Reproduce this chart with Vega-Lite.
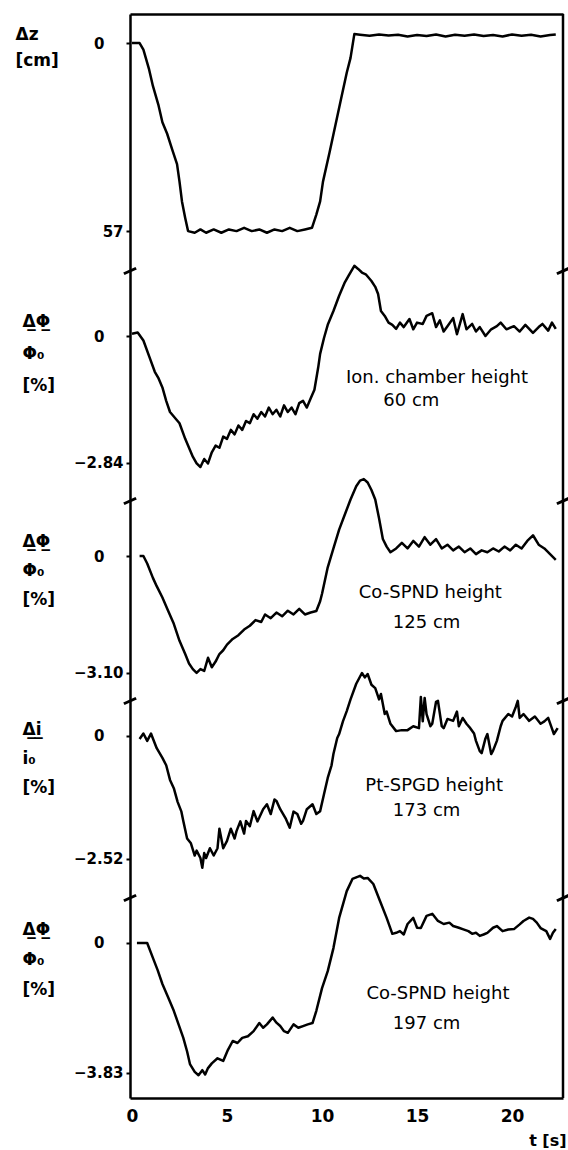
{
  "$schema": "https://vega.github.io/schema/vega-lite/v6.json",
  "background": "white",
  "padding": {"left": 15, "top": 12, "right": 2, "bottom": 2},
  "spacing": 0,
  "bounds": "flush",
  "resolve": {"scale": {"x": "independent", "y": "independent"}},
  "config": {
    "view": {"stroke": null},
    "font": "DejaVu Sans",
    "axis": {
      "domainColor": "black", "domainWidth": 2.5, "tickColor": "black", "tickWidth": 2,
      "labelFont": "DejaVu Sans", "labelFontWeight": "bold", "labelFontSize": 15, "labelColor": "black",
      "titleFont": "DejaVu Sans", "titleFontWeight": "bold", "titleColor": "black",
      "grid": false, "labelFlush": false, "labelOverlap": false
    },
    "axisY": {"titleAngle": 0, "titleAlign": "left", "titleBaseline": "top", "titleFontSize": 17, "titleLineHeight": 30, "tickSize": 4}
  },
  "datasets": {
    "dz": [
      {"t":0,"v":0},{"t":0.4,"v":0},{"t":0.6,"v":2},{"t":0.9,"v":8},{"t":1.1,"v":13},{"t":1.4,"v":19},{"t":1.6,"v":24},{"t":1.85,"v":27.5},{"t":2.1,"v":32},{"t":2.37,"v":36.7},{"t":2.5,"v":42},{"t":2.63,"v":48},{"t":2.8,"v":53},{"t":2.95,"v":57},
      {"t":3.3,"v":57.5},{"t":3.6,"v":56.5},{"t":3.9,"v":57.5},{"t":4.3,"v":56.5},{"t":4.7,"v":57.5},{"t":5.1,"v":56.5},{"t":5.5,"v":57},{"t":5.9,"v":56},{"t":6.3,"v":57},{"t":6.7,"v":56.5},{"t":7.1,"v":57.5},{"t":7.5,"v":56.5},{"t":7.9,"v":57},{"t":8.3,"v":56},{"t":8.7,"v":57},{"t":9.1,"v":56.5},{"t":9.47,"v":56},
      {"t":9.7,"v":52},{"t":9.9,"v":48},{"t":10.05,"v":42},{"t":10.4,"v":33},{"t":10.7,"v":25},{"t":11.0,"v":17},{"t":11.3,"v":9},{"t":11.5,"v":4.5},{"t":11.7,"v":-2.7},
      {"t":12.0,"v":-2.5},{"t":12.5,"v":-2.2},{"t":13.0,"v":-2.6},{"t":13.5,"v":-2.3},{"t":14.0,"v":-2.5},{"t":14.5,"v":-2.0},{"t":15.0,"v":-2.4},{"t":15.5,"v":-2.1},{"t":16.0,"v":-2.6},{"t":16.5,"v":-2.0},{"t":17.0,"v":-2.5},{"t":17.5,"v":-2.2},{"t":18.0,"v":-2.6},{"t":18.5,"v":-2.1},{"t":19.0,"v":-2.4},{"t":19.5,"v":-2.0},{"t":20.0,"v":-2.6},{"t":20.5,"v":-2.2},{"t":21.0,"v":-2.5},{"t":21.5,"v":-2.0},{"t":22.0,"v":-2.4},{"t":22.3,"v":-2.6}
    ],
    "ion": [
      {"t":0.0,"v":0.05},{"t":0.3,"v":0.08},{"t":0.6,"v":-0.1},{"t":0.9,"v":-0.45},{"t":1.2,"v":-0.8},{"t":1.4,"v":-0.95},{"t":1.6,"v":-1.15},{"t":1.8,"v":-1.45},{"t":2.0,"v":-1.7},{"t":2.3,"v":-1.85},{"t":2.5,"v":-1.95},{"t":2.8,"v":-2.3},{"t":3.0,"v":-2.5},{"t":3.2,"v":-2.7},{"t":3.4,"v":-2.85},{"t":3.6,"v":-2.93},{"t":3.8,"v":-2.75},{"t":4.0,"v":-2.85},{"t":4.2,"v":-2.6},{"t":4.4,"v":-2.45},{"t":4.6,"v":-2.5},{"t":4.8,"v":-2.25},{"t":5.0,"v":-2.3},{"t":5.2,"v":-2.1},{"t":5.4,"v":-2.2},{"t":5.6,"v":-2.0},{"t":5.8,"v":-2.1},{"t":6.0,"v":-1.9},{"t":6.2,"v":-1.95},{"t":6.4,"v":-1.75},{"t":6.6,"v":-1.85},{"t":6.8,"v":-1.7},{"t":7.0,"v":-1.8},{"t":7.2,"v":-1.6},{"t":7.4,"v":-1.75},{"t":7.6,"v":-1.65},{"t":7.8,"v":-1.8},{"t":8.0,"v":-1.55},{"t":8.2,"v":-1.7},{"t":8.4,"v":-1.6},{"t":8.6,"v":-1.75},{"t":8.8,"v":-1.5},{"t":9.0,"v":-1.45},{"t":9.2,"v":-1.6},{"t":9.4,"v":-1.4},{"t":9.6,"v":-1.2},{"t":9.8,"v":-0.7},{"t":9.9,"v":-0.4},{"t":10.1,"v":-0.05},{"t":10.3,"v":0.25},{"t":10.6,"v":0.56},{"t":10.9,"v":0.9},{"t":11.2,"v":1.2},{"t":11.4,"v":1.35},{"t":11.7,"v":1.57},{"t":11.9,"v":1.5},{"t":12.1,"v":1.42},{"t":12.3,"v":1.38},{"t":12.6,"v":1.23},{"t":12.8,"v":1.1},{"t":12.95,"v":0.94},{"t":13.1,"v":0.56},{"t":13.3,"v":0.45},{"t":13.5,"v":0.3},{"t":13.7,"v":0.25},{"t":13.9,"v":0.16},{"t":14.1,"v":0.3},{"t":14.3,"v":0.2},{"t":14.6,"v":0.38},{"t":14.8,"v":0.15},{"t":15.0,"v":0.3},{"t":15.3,"v":0.27},{"t":15.5,"v":0.45},{"t":15.8,"v":0.51},{"t":16.0,"v":0.2},{"t":16.2,"v":0.35},{"t":16.4,"v":0.1},{"t":16.6,"v":0.22},{"t":16.9,"v":0.4},{"t":17.1,"v":0.04},{"t":17.4,"v":0.49},{"t":17.6,"v":0.15},{"t":17.9,"v":0.27},{"t":18.1,"v":0.1},{"t":18.3,"v":0.2},{"t":18.6,"v":0.0},{"t":18.9,"v":0.15},{"t":19.2,"v":0.22},{"t":19.4,"v":0.3},{"t":19.7,"v":0.15},{"t":20.1,"v":0.22},{"t":20.4,"v":0.1},{"t":20.7,"v":0.25},{"t":21.1,"v":0.07},{"t":21.4,"v":0.2},{"t":21.6,"v":0.27},{"t":21.9,"v":0.12},{"t":22.1,"v":0.3},{"t":22.3,"v":0.16}
    ],
    "co125": [
      {"t":0.4,"v":0},{"t":0.6,"v":0},{"t":0.8,"v":-0.2},{"t":1.1,"v":-0.58},{"t":1.3,"v":-0.8},{"t":1.6,"v":-1.1},{"t":1.9,"v":-1.45},{"t":2.2,"v":-1.8},{"t":2.5,"v":-2.25},{"t":2.8,"v":-2.6},{"t":3.0,"v":-2.85},{"t":3.2,"v":-3.0},{"t":3.4,"v":-3.1},{"t":3.6,"v":-3.0},{"t":3.8,"v":-3.05},{"t":4.0,"v":-2.7},{"t":4.2,"v":-2.95},{"t":4.4,"v":-2.8},{"t":4.6,"v":-2.6},{"t":4.8,"v":-2.5},{"t":5.0,"v":-2.35},{"t":5.3,"v":-2.2},{"t":5.6,"v":-2.1},{"t":5.9,"v":-1.95},{"t":6.2,"v":-1.85},{"t":6.5,"v":-1.7},{"t":6.8,"v":-1.75},{"t":7.0,"v":-1.55},{"t":7.3,"v":-1.65},{"t":7.6,"v":-1.5},{"t":7.9,"v":-1.6},{"t":8.2,"v":-1.45},{"t":8.5,"v":-1.55},{"t":8.8,"v":-1.4},{"t":9.1,"v":-1.55},{"t":9.4,"v":-1.5},{"t":9.7,"v":-1.46},{"t":9.9,"v":-1.2},{"t":10.0,"v":-1.0},{"t":10.3,"v":-0.3},{"t":10.6,"v":0.2},{"t":10.9,"v":0.7},{"t":11.2,"v":1.1},{"t":11.5,"v":1.5},{"t":11.8,"v":1.85},{"t":12.0,"v":2.0},{"t":12.2,"v":2.04},{"t":12.4,"v":1.95},{"t":12.6,"v":1.75},{"t":12.8,"v":1.5},{"t":13.0,"v":1.0},{"t":13.2,"v":0.45},{"t":13.4,"v":0.25},{"t":13.6,"v":0.1},{"t":13.9,"v":0.2},{"t":14.2,"v":0.35},{"t":14.5,"v":0.2},{"t":14.8,"v":0.4},{"t":15.1,"v":0.25},{"t":15.4,"v":0.5},{"t":15.7,"v":0.3},{"t":16.0,"v":0.45},{"t":16.3,"v":0.2},{"t":16.6,"v":0.3},{"t":16.9,"v":0.15},{"t":17.2,"v":0.25},{"t":17.5,"v":0.1},{"t":17.8,"v":0.2},{"t":18.1,"v":0.05},{"t":18.4,"v":0.15},{"t":18.7,"v":0.1},{"t":19.0,"v":0.2},{"t":19.3,"v":0.12},{"t":19.6,"v":0.25},{"t":19.9,"v":0.15},{"t":20.2,"v":0.3},{"t":20.5,"v":0.2},{"t":20.8,"v":0.4},{"t":21.1,"v":0.55},{"t":21.4,"v":0.3},{"t":21.7,"v":0.2},{"t":22.0,"v":0.05},{"t":22.3,"v":-0.1}
    ],
    "pt173": [
      {"t":0.4,"v":-0.06},{"t":0.6,"v":0.05},{"t":0.8,"v":-0.1},{"t":1.0,"v":0.05},{"t":1.1,"v":-0.05},{"t":1.3,"v":-0.25},{"t":1.6,"v":-0.45},{"t":1.8,"v":-0.6},{"t":2.0,"v":-0.9},{"t":2.2,"v":-1.07},{"t":2.4,"v":-1.35},{"t":2.6,"v":-1.55},{"t":2.7,"v":-1.74},{"t":2.9,"v":-2.1},{"t":3.1,"v":-2.2},{"t":3.3,"v":-2.45},{"t":3.4,"v":-2.35},{"t":3.6,"v":-2.5},{"t":3.7,"v":-2.7},{"t":3.8,"v":-2.4},{"t":3.9,"v":-2.5},{"t":4.1,"v":-2.3},{"t":4.3,"v":-2.45},{"t":4.5,"v":-2.3},{"t":4.6,"v":-1.9},{"t":4.8,"v":-2.3},{"t":5.0,"v":-2.15},{"t":5.2,"v":-1.9},{"t":5.4,"v":-2.1},{"t":5.5,"v":-1.95},{"t":5.7,"v":-1.75},{"t":5.9,"v":-2.0},{"t":6.0,"v":-1.74},{"t":6.2,"v":-1.85},{"t":6.4,"v":-1.54},{"t":6.6,"v":-1.75},{"t":6.7,"v":-1.67},{"t":6.9,"v":-1.5},{"t":7.1,"v":-1.4},{"t":7.3,"v":-1.6},{"t":7.5,"v":-1.3},{"t":7.6,"v":-1.33},{"t":7.8,"v":-1.5},{"t":8.1,"v":-1.7},{"t":8.3,"v":-1.88},{"t":8.5,"v":-1.55},{"t":8.7,"v":-1.6},{"t":8.9,"v":-1.8},{"t":9.0,"v":-1.74},{"t":9.2,"v":-1.5},{"t":9.5,"v":-1.4},{"t":9.7,"v":-1.6},{"t":9.9,"v":-1.54},{"t":10.1,"v":-1.2},{"t":10.3,"v":-0.86},{"t":10.5,"v":-0.6},{"t":10.6,"v":-0.37},{"t":10.8,"v":-0.04},{"t":10.9,"v":0.04},{"t":11.1,"v":0.3},{"t":11.3,"v":0.51},{"t":11.5,"v":0.75},{"t":11.8,"v":1.07},{"t":12.1,"v":1.29},{"t":12.25,"v":1.2},{"t":12.4,"v":1.27},{"t":12.6,"v":1.05},{"t":12.8,"v":0.98},{"t":13.0,"v":0.75},{"t":13.1,"v":0.86},{"t":13.3,"v":0.45},{"t":13.4,"v":0.5},{"t":13.6,"v":0.25},{"t":13.9,"v":0.1},{"t":14.2,"v":0.12},{"t":14.5,"v":0.12},{"t":14.8,"v":0.2},{"t":15.1,"v":0.16},{"t":15.2,"v":0.8},{"t":15.3,"v":0.3},{"t":15.4,"v":0.78},{"t":15.5,"v":0.45},{"t":15.7,"v":0.2},{"t":15.8,"v":0.25},{"t":16.0,"v":0.7},{"t":16.1,"v":0.72},{"t":16.3,"v":0.2},{"t":16.4,"v":0.16},{"t":16.6,"v":0.35},{"t":16.9,"v":0.31},{"t":17.1,"v":0.5},{"t":17.2,"v":0.2},{"t":17.4,"v":0.37},{"t":17.6,"v":0.25},{"t":17.8,"v":0.16},{"t":18.0,"v":0.05},{"t":18.1,"v":-0.1},{"t":18.3,"v":-0.31},{"t":18.4,"v":-0.35},{"t":18.6,"v":-0.05},{"t":18.7,"v":0.04},{"t":18.9,"v":-0.37},{"t":19.0,"v":-0.3},{"t":19.2,"v":-0.1},{"t":19.4,"v":0.2},{"t":19.5,"v":0.31},{"t":19.8,"v":0.45},{"t":20.0,"v":0.4},{"t":20.2,"v":0.6},{"t":20.3,"v":0.72},{"t":20.4,"v":0.37},{"t":20.6,"v":0.45},{"t":20.9,"v":0.31},{"t":21.2,"v":0.4},{"t":21.5,"v":0.25},{"t":21.7,"v":0.3},{"t":21.9,"v":0.37},{"t":22.1,"v":0.15},{"t":22.2,"v":0.04},{"t":22.4,"v":0.16}
    ],
    "co197": [
      {"t":0.26,"v":0},{"t":0.8,"v":0},{"t":1.1,"v":-0.44},{"t":1.35,"v":-0.8},{"t":1.6,"v":-1.21},{"t":1.9,"v":-1.6},{"t":2.2,"v":-2.0},{"t":2.45,"v":-2.4},{"t":2.7,"v":-2.8},{"t":2.9,"v":-3.2},{"t":3.05,"v":-3.57},{"t":3.3,"v":-3.8},{"t":3.5,"v":-3.9},{"t":3.7,"v":-3.75},{"t":3.85,"v":-3.88},{"t":4.0,"v":-3.69},{"t":4.2,"v":-3.55},{"t":4.5,"v":-3.4},{"t":4.8,"v":-3.48},{"t":5.05,"v":-3.15},{"t":5.3,"v":-2.89},{"t":5.55,"v":-2.95},{"t":5.8,"v":-2.8},{"t":6.1,"v":-2.75},{"t":6.4,"v":-2.6},{"t":6.7,"v":-2.36},{"t":6.9,"v":-2.5},{"t":7.1,"v":-2.4},{"t":7.4,"v":-2.2},{"t":7.6,"v":-2.35},{"t":7.8,"v":-2.45},{"t":8.0,"v":-2.6},{"t":8.2,"v":-2.65},{"t":8.5,"v":-2.4},{"t":8.75,"v":-2.5},{"t":9.0,"v":-2.45},{"t":9.25,"v":-2.4},{"t":9.5,"v":-2.36},{"t":9.7,"v":-2.0},{"t":10.0,"v":-1.33},{"t":10.3,"v":-0.83},{"t":10.6,"v":-0.15},{"t":10.9,"v":0.74},{"t":11.3,"v":1.53},{"t":11.6,"v":1.89},{"t":12.0,"v":1.98},{"t":12.2,"v":1.9},{"t":12.4,"v":1.92},{"t":12.7,"v":1.74},{"t":13.05,"v":1.24},{"t":13.4,"v":0.74},{"t":13.7,"v":0.27},{"t":13.9,"v":0.3},{"t":14.1,"v":0.35},{"t":14.3,"v":0.25},{"t":14.5,"v":0.56},{"t":14.8,"v":0.74},{"t":15.0,"v":0.45},{"t":15.2,"v":0.44},{"t":15.5,"v":0.8},{"t":15.8,"v":0.86},{"t":16.1,"v":0.65},{"t":16.4,"v":0.56},{"t":16.7,"v":0.6},{"t":16.9,"v":0.5},{"t":17.2,"v":0.45},{"t":17.4,"v":0.41},{"t":17.7,"v":0.35},{"t":17.9,"v":0.27},{"t":18.1,"v":0.3},{"t":18.3,"v":0.21},{"t":18.5,"v":0.25},{"t":18.7,"v":0.3},{"t":19.0,"v":0.45},{"t":19.2,"v":0.5},{"t":19.5,"v":0.35},{"t":19.8,"v":0.4},{"t":20.1,"v":0.41},{"t":20.4,"v":0.55},{"t":20.6,"v":0.65},{"t":20.9,"v":0.75},{"t":21.1,"v":0.71},{"t":21.3,"v":0.6},{"t":21.5,"v":0.44},{"t":21.8,"v":0.35},{"t":22.0,"v":0.12},{"t":22.15,"v":0.3},{"t":22.3,"v":0.41}
    ]
  },
  "vconcat": [
    {
      "width": 433, "height": 257,
      "layer": [
        {
          "data": {"name": "dz"},
          "mark": {"type": "line", "color": "black", "strokeWidth": 2.5, "strokeJoin": "round"},
          "encoding": {
            "x": {"field": "t", "type": "quantitative", "scale": {"domain": [-0.105, 22.68], "nice": false, "zero": false},
                  "axis": {"orient": "top", "ticks": false, "labels": false, "title": null}},
            "y": {"field": "v", "type": "quantitative", "scale": {"domain": [-8.79, 69.09], "reverse": true, "nice": false, "zero": false},
                  "axis": {"values": [0, 57], "labelPadding": {"condition": {"test": "datum.value === 0", "value": 22}, "value": 3},
                           "title": ["Δz", "[cm]"], "titleX": -115, "titleY": 12, "titleLineHeight": 26}}
          }
        },
        {"data": {"values": [{}]}, "mark": {"type": "rule", "color": "black", "strokeWidth": 2.5}, "encoding": {"x": {"datum": 22.68, "type": "quantitative"}}},
        {"data": {"values": [{}]}, "mark": {"type": "point", "shape": "M-1,0.45L1,-0.45", "size": 150, "filled": false, "color": "black", "strokeWidth": 3, "opacity": 1},
         "encoding": {"x": {"datum": -0.105, "type": "quantitative"}, "y": {"datum": 69.09, "type": "quantitative"}}},
        {"data": {"values": [{}]}, "mark": {"type": "point", "shape": "M-1,0.45L1,-0.45", "size": 150, "filled": false, "color": "black", "strokeWidth": 3, "opacity": 1},
         "encoding": {"x": {"datum": 22.68, "type": "quantitative"}, "y": {"datum": 69.09, "type": "quantitative"}}}
      ]
    },
    {
      "width": 433, "height": 230,
      "layer": [
        {
          "data": {"name": "ion"},
          "mark": {"type": "line", "color": "black", "strokeWidth": 2.5, "strokeJoin": "round"},
          "encoding": {
            "x": {"field": "t", "type": "quantitative", "scale": {"domain": [-0.105, 22.68], "nice": false, "zero": false}, "axis": null},
            "y": {"field": "v", "type": "quantitative", "scale": {"domain": [-3.69, 1.454], "nice": false, "zero": false},
                  "axis": {"values": [0, -2.84], "labelExpr": "datum.value === 0 ? '0' : format(datum.value, '.2f')",
                           "labelPadding": {"condition": {"test": "datum.value === 0", "value": 22}, "value": 3},
                           "title": ["Δ̲Φ̲", "Φ₀", "[%]"], "titleX": -108, "titleY": 42, "titleLineHeight": 32}}
          }
        },
        {"data": {"values": [{}]}, "mark": {"type": "rule", "color": "black", "strokeWidth": 2.5}, "encoding": {"x": {"datum": 22.68, "type": "quantitative"}}},
        {"data": {"values": [{}]}, "mark": {"type": "point", "shape": "M-1,0.45L1,-0.45", "size": 150, "filled": false, "color": "black", "strokeWidth": 3, "opacity": 1},
         "encoding": {"x": {"datum": -0.105, "type": "quantitative"}, "y": {"datum": -3.69, "type": "quantitative"}}},
        {"data": {"values": [{}]}, "mark": {"type": "point", "shape": "M-1,0.45L1,-0.45", "size": 150, "filled": false, "color": "black", "strokeWidth": 3, "opacity": 1},
         "encoding": {"x": {"datum": 22.68, "type": "quantitative"}, "y": {"datum": -3.69, "type": "quantitative"}}},
        {"data": {"values": [{}]}, "mark": {"type": "text", "fontSize": 18, "color": "black", "align": "center", "baseline": "middle"},
         "encoding": {"x": {"datum": 16.05, "type": "quantitative"}, "y": {"datum": -0.94, "type": "quantitative"}, "text": {"value": "Ion. chamber height"}}},
        {"data": {"values": [{}]}, "mark": {"type": "text", "fontSize": 18, "color": "black", "align": "center", "baseline": "middle"},
         "encoding": {"x": {"datum": 14.7, "type": "quantitative"}, "y": {"datum": -1.45, "type": "quantitative"}, "text": {"value": "60 cm"}}}
      ]
    },
    {
      "width": 433, "height": 200,
      "layer": [
        {
          "data": {"name": "co125"},
          "mark": {"type": "line", "color": "black", "strokeWidth": 2.5, "strokeJoin": "round"},
          "encoding": {
            "x": {"field": "t", "type": "quantitative", "scale": {"domain": [-0.105, 22.68], "nice": false, "zero": false}, "axis": null},
            "y": {"field": "v", "type": "quantitative", "scale": {"domain": [-3.846, 1.459], "nice": false, "zero": false},
                  "axis": {"values": [0, -3.1], "labelExpr": "datum.value === 0 ? '0' : format(datum.value, '.2f')",
                           "labelPadding": {"condition": {"test": "datum.value === 0", "value": 22}, "value": 3},
                           "title": ["Δ̲Φ̲", "Φ₀", "[%]"], "titleX": -108, "titleY": 32, "titleLineHeight": 29}}
          }
        },
        {"data": {"values": [{}]}, "mark": {"type": "rule", "color": "black", "strokeWidth": 2.5}, "encoding": {"x": {"datum": 22.68, "type": "quantitative"}}},
        {"data": {"values": [{}]}, "mark": {"type": "point", "shape": "M-1,0.45L1,-0.45", "size": 150, "filled": false, "color": "black", "strokeWidth": 3, "opacity": 1},
         "encoding": {"x": {"datum": -0.105, "type": "quantitative"}, "y": {"datum": -3.846, "type": "quantitative"}}},
        {"data": {"values": [{}]}, "mark": {"type": "point", "shape": "M-1,0.45L1,-0.45", "size": 150, "filled": false, "color": "black", "strokeWidth": 3, "opacity": 1},
         "encoding": {"x": {"datum": 22.68, "type": "quantitative"}, "y": {"datum": -3.846, "type": "quantitative"}}},
        {"data": {"values": [{}]}, "mark": {"type": "text", "fontSize": 18, "color": "black", "align": "center", "baseline": "middle"},
         "encoding": {"x": {"datum": 15.7, "type": "quantitative"}, "y": {"datum": -0.98, "type": "quantitative"}, "text": {"value": "Co-SPND height"}}},
        {"data": {"values": [{}]}, "mark": {"type": "text", "fontSize": 18, "color": "black", "align": "center", "baseline": "middle"},
         "encoding": {"x": {"datum": 15.5, "type": "quantitative"}, "y": {"datum": -1.78, "type": "quantitative"}, "text": {"value": "125 cm"}}}
      ]
    },
    {
      "width": 433, "height": 197,
      "layer": [
        {
          "data": {"name": "pt173"},
          "mark": {"type": "line", "color": "black", "strokeWidth": 2.5, "strokeJoin": "round"},
          "encoding": {
            "x": {"field": "t", "type": "quantitative", "scale": {"domain": [-0.105, 22.68], "nice": false, "zero": false}, "axis": null},
            "y": {"field": "v", "type": "quantitative", "scale": {"domain": [-3.32, 0.717], "nice": false, "zero": false},
                  "axis": {"values": [0, -2.52], "labelExpr": "datum.value === 0 ? '0' : format(datum.value, '.2f')",
                           "labelPadding": {"condition": {"test": "datum.value === 0", "value": 22}, "value": 3},
                           "title": ["Δ̲i̲", "i₀", "[%]"], "titleX": -108, "titleY": 20, "titleLineHeight": 29}}
          }
        },
        {"data": {"values": [{}]}, "mark": {"type": "rule", "color": "black", "strokeWidth": 2.5}, "encoding": {"x": {"datum": 22.68, "type": "quantitative"}}},
        {"data": {"values": [{}]}, "mark": {"type": "point", "shape": "M-1,0.45L1,-0.45", "size": 150, "filled": false, "color": "black", "strokeWidth": 3, "opacity": 1},
         "encoding": {"x": {"datum": -0.105, "type": "quantitative"}, "y": {"datum": -3.32, "type": "quantitative"}}},
        {"data": {"values": [{}]}, "mark": {"type": "point", "shape": "M-1,0.45L1,-0.45", "size": 150, "filled": false, "color": "black", "strokeWidth": 3, "opacity": 1},
         "encoding": {"x": {"datum": 22.68, "type": "quantitative"}, "y": {"datum": -3.32, "type": "quantitative"}}},
        {"data": {"values": [{}]}, "mark": {"type": "text", "fontSize": 18, "color": "black", "align": "center", "baseline": "middle"},
         "encoding": {"x": {"datum": 15.9, "type": "quantitative"}, "y": {"datum": -1.02, "type": "quantitative"}, "text": {"value": "Pt-SPGD height"}}},
        {"data": {"values": [{}]}, "mark": {"type": "text", "fontSize": 18, "color": "black", "align": "center", "baseline": "middle"},
         "encoding": {"x": {"datum": 15.5, "type": "quantitative"}, "y": {"datum": -1.54, "type": "quantitative"}, "text": {"value": "173 cm"}}}
      ]
    },
    {
      "width": 433, "height": 200,
      "layer": [
        {
          "data": {"name": "co197"},
          "mark": {"type": "line", "color": "black", "strokeWidth": 2.5, "strokeJoin": "round"},
          "encoding": {
            "x": {"field": "t", "type": "quantitative", "scale": {"domain": [-0.105, 22.68], "nice": false, "zero": false},
                  "axis": {"orient": "bottom", "values": [0, 5, 10, 15, 20], "ticks": false, "labelPadding": 10, "labelFontSize": 17,
                           "title": "t [s]", "titleFontSize": 16, "titleAlign": "right", "titleBaseline": "top", "titleX": 436, "titleY": 34, "titleAngle": 0}},
            "y": {"field": "v", "type": "quantitative", "scale": {"domain": [-4.572, 1.327], "nice": false, "zero": false},
                  "axis": {"values": [0, -3.83], "labelExpr": "datum.value === 0 ? '0' : format(datum.value, '.2f')",
                           "labelPadding": {"condition": {"test": "datum.value === 0", "value": 22}, "value": 3},
                           "title": ["Δ̲Φ̲", "Φ₀", "[%]"], "titleX": -108, "titleY": 23, "titleLineHeight": 30}}
          }
        },
        {"data": {"values": [{}]}, "mark": {"type": "rule", "color": "black", "strokeWidth": 2.5}, "encoding": {"x": {"datum": 22.68, "type": "quantitative"}}},
        {"data": {"values": [{}]}, "mark": {"type": "text", "fontSize": 18, "color": "black", "align": "center", "baseline": "middle"},
         "encoding": {"x": {"datum": 16.1, "type": "quantitative"}, "y": {"datum": -1.5, "type": "quantitative"}, "text": {"value": "Co-SPND height"}}},
        {"data": {"values": [{}]}, "mark": {"type": "text", "fontSize": 18, "color": "black", "align": "center", "baseline": "middle"},
         "encoding": {"x": {"datum": 15.5, "type": "quantitative"}, "y": {"datum": -2.39, "type": "quantitative"}, "text": {"value": "197 cm"}}}
      ]
    }
  ]
}
